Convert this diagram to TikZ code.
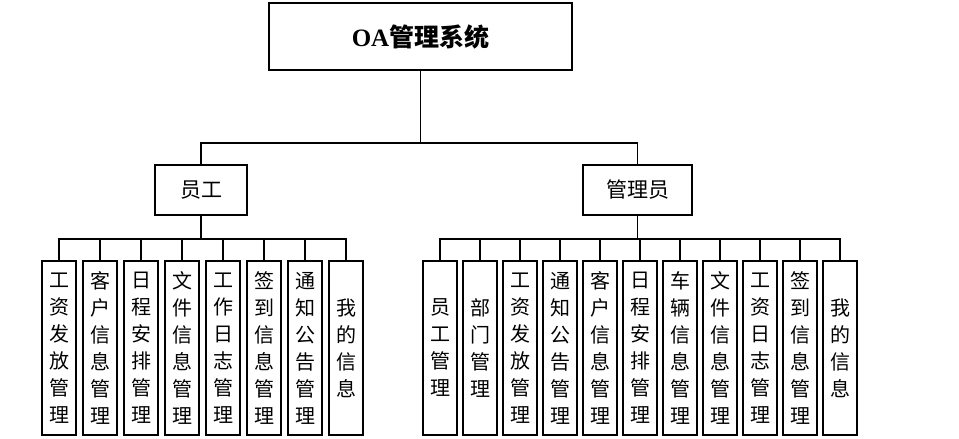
\documentclass[tikz,border=0pt]{standalone}
\usepackage{fontspec}
\setmainfont{Noto Sans CJK SC}
\newfontfamily\latserif{Liberation Serif}
\usetikzlibrary{positioning}
\begin{document}
\begin{tikzpicture}[x=1pt, y=-1pt,
        box/.style = {draw, line width=1.5pt, inner sep=0pt},
        link/.style = {line width=1.6pt},
        leaf/.style = {box, minimum width=34pt, minimum height=174pt, align=center,
                       font=\fontsize{20}{27}\selectfont}]
        % Area
        \useasboundingbox (0,0) rectangle (959,439);
        % Radice
        \node[box, minimum width=303pt, minimum height=67pt, font=\fontsize{25}{28}\selectfont\bfseries]
            (root) at (420.5,36.5) {{\latserif\bfseries OA}管理系统};
        % Ruoli
        \node[box, minimum width=92pt, minimum height=50pt, font=\fontsize{21}{24}\selectfont]
            (emp) at (201,190) {员工};
        \node[box, minimum width=109pt, minimum height=50pt, font=\fontsize{21}{24}\selectfont]
            (adm) at (637.5,190) {管理员};
        \draw[link] (root.south) -- ++(0,72) -| (emp.north);
        \draw[link] (root.south) -- ++(0,72) -| (adm.north);
        % Moduli del dipendente
        \foreach \txt [count=\i] in {{工\\资\\发\\放\\管\\理}, {客\\户\\信\\息\\管\\理},
                {日\\程\\安\\排\\管\\理}, {文\\件\\信\\息\\管\\理}, {工\\作\\日\\志\\管\\理},
                {签\\到\\信\\息\\管\\理}, {通\\知\\公\\告\\管\\理}, {我\\的\\信\\息}} {
            \node[leaf] (e\i) at ({59+41*(\i-1)},348) {\txt};
            \draw[link] (emp.south) -- ++(0,23) -| (e\i.north);
        }
        % Moduli dell'amministratore
        \foreach \txt [count=\i] in {{员\\工\\管\\理}, {部\\门\\管\\理}, {工\\资\\发\\放\\管\\理},
                {通\\知\\公\\告\\管\\理}, {客\\户\\信\\息\\管\\理}, {日\\程\\安\\排\\管\\理},
                {车\\辆\\信\\息\\管\\理}, {文\\件\\信\\息\\管\\理}, {工\\资\\日\\志\\管\\理},
                {签\\到\\信\\息\\管\\理}, {我\\的\\信\\息}} {
            \node[leaf] (a\i) at ({440+40*(\i-1)},348) {\txt};
            \draw[link] (adm.south) -- ++(0,23) -| (a\i.north);
        }
\end{tikzpicture}
\end{document}
